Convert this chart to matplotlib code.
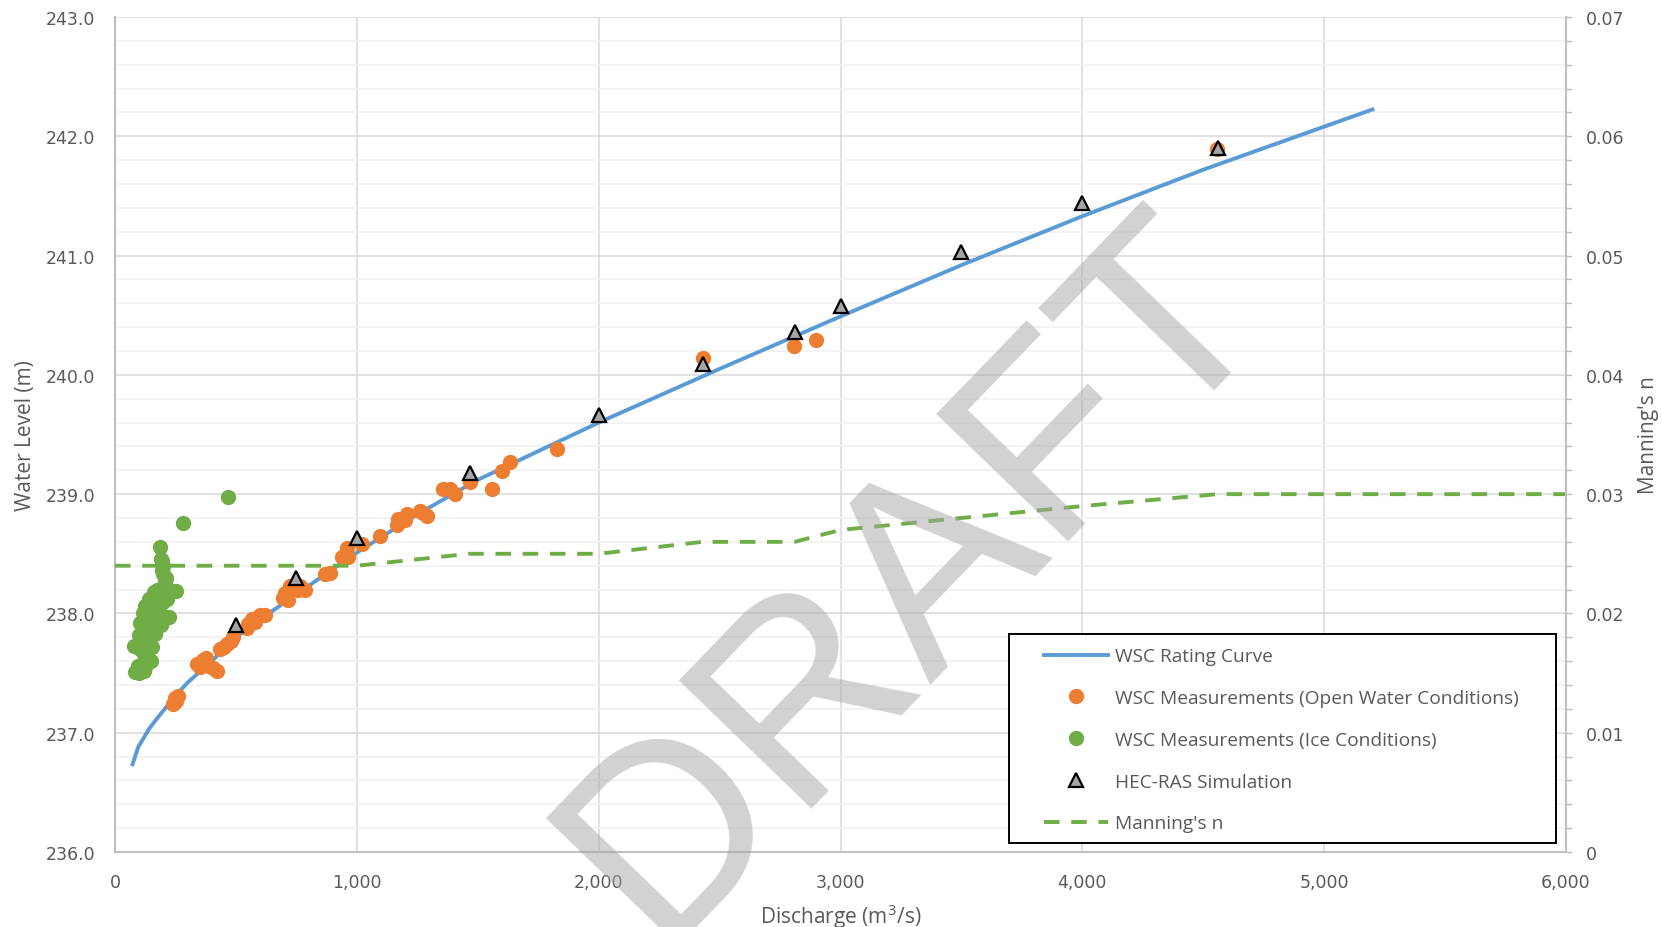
import matplotlib
matplotlib.use('Agg')
import matplotlib.pyplot as plt
from matplotlib.ticker import MultipleLocator, FuncFormatter
from matplotlib.patches import Rectangle
from matplotlib.lines import Line2D

# WSC rating curve (discharge m3/s, water level m)
curve_q = [70, 83, 96, 120, 140, 170, 206, 250, 300, 400, 500, 600, 750, 1000,
           1250, 1500, 2000, 2500, 3000, 3500, 4000, 4500, 5207]
curve_wl = [236.72, 236.80, 236.88, 236.96, 237.03, 237.11, 237.20, 237.31, 237.42,
            237.60, 237.80, 237.95, 238.16, 238.51, 238.83, 239.12, 239.60, 240.05,
            240.49, 240.92, 241.33, 241.72, 242.23]

# WSC measurements, open water
open_q = [240, 250, 262, 252,
          340, 352, 365, 375, 390, 405, 422,
          435, 450, 462, 478, 490,
          545, 552, 565, 580, 600, 620,
          696, 705, 714, 724, 740, 755, 765, 786,
          868, 889, 937, 958, 965, 1020,
          1096, 1165, 1172, 1200, 1206, 1261, 1275, 1289,
          1358, 1385, 1406, 1468, 1558, 1599, 1633, 1829,
          2433, 2809, 2899, 4555]
open_wl = [237.24, 237.29, 237.31, 237.27,
           237.58, 237.55, 237.61, 237.63, 237.56, 237.54, 237.52,
           237.70, 237.72, 237.74, 237.77, 237.80,
           237.88, 237.91, 237.95, 237.93, 237.99, 237.99,
           238.13, 238.17, 238.11, 238.23, 238.22, 238.20, 238.23, 238.20,
           238.33, 238.34, 238.47, 238.55, 238.47, 238.58,
           238.65, 238.74, 238.79, 238.78, 238.83, 238.86, 238.84, 238.82,
           239.04, 239.04, 239.00, 239.10, 239.04, 239.19, 239.27, 239.38,
           240.14, 240.24, 240.29, 241.89]

# WSC measurements, ice conditions
ice_q = [83, 100, 118, 124, 110, 95,
         78, 105, 120, 135, 150, 112, 128,
         98, 110, 125, 140, 155, 118, 132,
         105, 120, 135, 150, 165, 142,
         115, 130, 145, 160, 175, 190, 152,
         125, 140, 155, 170, 185, 200, 225,
         140, 155, 170, 185, 200, 215,
         160, 175, 190, 205, 225, 252,
         205, 210, 200, 195, 200, 195, 190, 186, 283, 469]
ice_wl = [237.51, 237.50, 237.52, 237.55, 237.58, 237.56,
          237.73, 237.70, 237.66, 237.63, 237.60, 237.74, 237.68,
          237.82, 237.80, 237.78, 237.75, 237.72, 237.86, 237.84,
          237.92, 237.90, 237.88, 237.86, 237.83, 237.94,
          238.00, 237.98, 237.96, 237.94, 237.92, 237.90, 238.02,
          238.06, 238.08, 238.05, 238.02, 238.00, 237.98, 237.97,
          238.12, 238.14, 238.10, 238.08, 238.10, 238.12,
          238.18, 238.20, 238.16, 238.22, 238.20, 238.19,
          238.26, 238.30, 238.33, 238.36, 238.40, 238.44, 238.46, 238.56,
          238.76, 238.98]

# HEC-RAS simulated profiles
sim_q = [500, 750, 1000, 1470, 2000, 2430, 2810, 3000, 3500, 4000, 4560]
sim_wl = [237.90, 238.30, 238.63, 239.18, 239.66, 240.09, 240.36, 240.58,
          241.03, 241.44, 241.90]

# Manning's n used for each flow
n_q = [0, 500, 750, 1000, 1465, 2000, 2430, 2810, 3000, 3500, 4000, 4560, 6000]
n_val = [0.024, 0.024, 0.024, 0.024, 0.025, 0.025, 0.026, 0.026, 0.027, 0.028,
         0.029, 0.030, 0.030]

BLUE = '#5b9bd5'
ORANGE = '#ed7d31'
GREEN = '#70ad47'
TXT = '#595959'
SPINE = '#bfbfbf'

plt.rcParams['mathtext.default'] = 'regular'

fig, ax = plt.subplots(figsize=(16.62, 9.28), dpi=100)
fig.subplots_adjust(left=115/1662, right=1566/1662, bottom=1-853/928, top=1-18/928)
ax2 = ax.twinx()

ax.plot(curve_q, curve_wl, color=BLUE, lw=2.8, zorder=2, solid_capstyle='butt')
ax.plot(open_q, open_wl, 'o', color=ORANGE, ms=11, mew=0, zorder=3)
ax.plot(ice_q, ice_wl, 'o', color=GREEN, ms=11, mew=0, zorder=3)
ax.plot(sim_q, sim_wl, '^', mfc='#a5a5a5', mec='black', ms=10, mew=1.6, zorder=4)
ax2.plot(n_q, n_val, color=GREEN, lw=2.8, dashes=(4, 3))

ax.set_xlim(0, 6000)
ax.set_ylim(236, 243)
ax2.set_ylim(0, 0.07)

ax.xaxis.set_major_locator(MultipleLocator(1000))
ax.xaxis.set_major_formatter(FuncFormatter(lambda v, p: f'{v:,.0f}'))
ax.yaxis.set_major_locator(MultipleLocator(1))
ax.yaxis.set_minor_locator(MultipleLocator(0.2))
ax.yaxis.set_major_formatter(FuncFormatter(lambda v, p: f'{v:.1f}'))
ax2.yaxis.set_major_locator(MultipleLocator(0.01))
ax2.yaxis.set_minor_locator(MultipleLocator(0.002))
ax2.yaxis.set_major_formatter(FuncFormatter(lambda v, p: '0' if abs(v) < 1e-9 else f'{v:.2f}'))

ax.grid(True, which='major', color='#d9d9d9', lw=1.1)
ax.grid(True, which='minor', axis='y', color='#f0f0f0', lw=1.1)
ax.set_axisbelow(True)

for a in (ax, ax2):
    for s in a.spines.values():
        s.set_visible(False)
ax.spines['left'].set_visible(True)
ax.spines['bottom'].set_visible(True)
ax2.spines['right'].set_visible(True)
for s in (ax.spines['left'], ax.spines['bottom'], ax2.spines['right']):
    s.set_color(SPINE)
    s.set_linewidth(1.5)

ax.tick_params(axis='y', which='both', length=0, pad=14, labelsize=12.5, labelcolor=TXT)
ax.tick_params(axis='x', which='both', length=0, pad=15, labelsize=12.5, labelcolor=TXT)
ax2.tick_params(axis='y', which='both', length=4.3, width=1, color=SPINE, direction='out',
                pad=10, labelsize=12.5, labelcolor=TXT)

lab_font = dict(family=['Open Sans', 'DejaVu Sans'], fontsize=15, color=TXT)
ax.set_xlabel('Discharge (m$^3$/s)', labelpad=7.5, **lab_font)
ax.set_ylabel('Water Level (m)', labelpad=7, **lab_font)
ax2.set_ylabel("Manning's n", labelpad=10, **lab_font)

# legend box drawn by hand so the padding can differ left/right and top/bottom
ax2.add_patch(Rectangle((0.616, 0.011), 0.377, 0.250, transform=ax2.transAxes,
                        facecolor='white', edgecolor='black', lw=1.4, zorder=8))
handles = [
    Line2D([], [], color=BLUE, lw=2.8),
    Line2D([], [], ls='none', marker='o', color=ORANGE, ms=11, mew=0),
    Line2D([], [], ls='none', marker='o', color=GREEN, ms=11, mew=0),
    Line2D([], [], ls='none', marker='^', mfc='#a5a5a5', mec='black', ms=10, mew=1.6),
    Line2D([], [], color=GREEN, lw=2.8, dashes=(4, 3)),
]
labels = ['WSC Rating Curve', 'WSC Measurements (Open Water Conditions)',
          'WSC Measurements (Ice Conditions)', 'HEC-RAS Simulation', "Manning's n"]
leg = ax2.legend(handles, labels, loc='upper left', bbox_to_anchor=(0.640, 0.245),
                 frameon=False, borderpad=0, borderaxespad=0, handlelength=3.34,
                 handletextpad=0.37, labelspacing=1.24,
                 prop=dict(family=['Open Sans', 'DejaVu Sans'], size=13.8))
leg.set_zorder(9)
for t in leg.get_texts():
    t.set_color(TXT)

# watermark
fig.text(0.551, 0.376, 'DRAFT', rotation=46, ha='center', va='center',
         fontsize=192, family=['Liberation Sans', 'DejaVu Sans'],
         color='#a6a6a6', alpha=0.5, zorder=20)

fig.savefig('out.png', dpi=100)
